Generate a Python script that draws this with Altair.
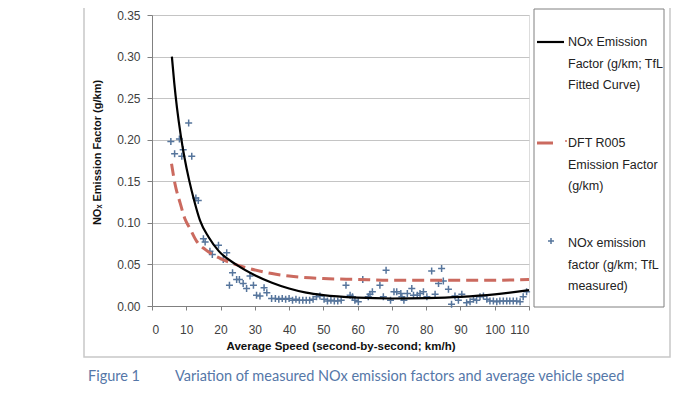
import altair as alt
import pandas as pd

# ---------------- data ----------------
speed_measured = [5.5, 6.6, 8.0, 8.7, 9.1, 10.7, 11.6, 12.8, 13.5, 15.0, 15.5, 16.9, 17.6,
                  19.4, 20.8, 21.8, 22.6, 23.5, 24.7, 25.5, 26.6, 27.6, 28.6, 29.6, 30.5,
                  31.5, 32.7, 33.5, 34.9, 36.0, 37.0, 38.0, 39.0, 40.0, 41.0, 42.0, 43.0,
                  44.0, 45.0, 46.0, 47.0, 48.0, 49.0, 50.2, 51.2, 52.2, 53.2, 54.2, 55.2,
                  56.6, 57.8, 58.5, 59.2, 60.2, 61.5, 63.1, 63.6, 64.3, 66.5, 67.5, 68.3,
                  69.6, 70.6, 71.4, 72.6, 72.9, 73.5, 74.5, 75.8, 76.3, 77.4, 78.2, 79.2,
                  80.2, 81.6, 82.6, 83.6, 84.5, 85.0, 86.5, 87.4, 88.4, 89.4, 90.4, 91.8,
                  92.8, 93.8, 94.7, 95.7, 96.7, 97.7, 98.6, 99.6, 100.6, 101.5, 102.5,
                  103.5, 104.4, 105.4, 106.4, 107.4, 108.3, 109.3]
nox_measured = [0.198, 0.183, 0.201, 0.180, 0.188, 0.220, 0.180, 0.130, 0.127, 0.081, 0.077,
                0.066, 0.062, 0.073, 0.056, 0.064, 0.025, 0.040, 0.032, 0.032, 0.027, 0.021,
                0.036, 0.025, 0.013, 0.012, 0.022, 0.016, 0.009, 0.009, 0.008, 0.009, 0.008,
                0.009, 0.007, 0.008, 0.007, 0.007, 0.007, 0.007, 0.008, 0.011, 0.012, 0.008,
                0.006, 0.007, 0.006, 0.006, 0.007, 0.025, 0.013, 0.011, 0.007, 0.005, 0.032,
                0.011, 0.014, 0.017, 0.025, 0.011, 0.043, 0.007, 0.017, 0.017, 0.015, 0.011,
                0.007, 0.015, 0.021, 0.013, 0.013, 0.015, 0.017, 0.011, 0.042, 0.014, 0.027,
                0.045, 0.030, 0.020, 0.002, 0.012, 0.007, 0.014, 0.004, 0.005, 0.008, 0.007,
                0.011, 0.012, 0.008, 0.006, 0.006, 0.005, 0.006, 0.006, 0.006, 0.006, 0.006,
                0.006, 0.005, 0.011, 0.017]

tfl_speed = [5.8, 6.5, 7.3, 8.4, 9.5, 10.8, 12.3, 14.0, 16.5, 19.5, 24.5, 30.0, 35.0,
             40.0, 45.0, 50.0, 60.0, 70.0, 80.0, 90.0, 100.0, 110.0]
tfl_nox = [0.300, 0.268, 0.238, 0.205, 0.178, 0.152, 0.127, 0.103, 0.083, 0.066, 0.050,
           0.037, 0.028, 0.021, 0.016, 0.013, 0.010, 0.009, 0.0095, 0.011, 0.014, 0.019]

dft_speed = [5.7, 6.7, 8.2, 9.6, 11.1, 13.0, 15.5, 19.0, 23.0, 28.5, 35.0, 40.0, 50.0,
             60.0, 70.0, 80.0, 90.0, 100.0, 110.0]
dft_nox = [0.171, 0.147, 0.124, 0.105, 0.093, 0.078, 0.068, 0.059, 0.052, 0.045, 0.039,
           0.036, 0.033, 0.032, 0.031, 0.031, 0.031, 0.031, 0.032]

x_ticks = [0, 10, 20, 30, 40, 50, 60, 70, 80, 90, 100, 110]
y_ticks = [0.0, 0.05, 0.10, 0.15, 0.20, 0.25, 0.30, 0.35]

legend_lines = [
    ["NOx Emission", "Factor (g/km; TfL", "Fitted Curve)"],
    ["DFT R005", "Emission Factor", "(g/km)"],
    ["NOx emission", "factor (g/km; TfL", "measured)"],
]
x_title = "Average Speed (second-by-second; km/h)"
y_title = "NOₓ Emission Factor (g/km)"
caption_label = "Figure 1"
caption_text = "Variation of measured NOx emission factors and average vehicle speed"

# ---------------- chart ----------------
W, H = 377, 291
TOP = 7
FONT = "Liberation Sans"
BLUE = "#56759c"
RED = "#cb6a5f"

meas_df = pd.DataFrame({"speed": speed_measured, "nox": nox_measured})
tfl_df = pd.DataFrame({"speed": tfl_speed, "nox": tfl_nox})
dft_df = pd.DataFrame({"speed": dft_speed, "nox": dft_nox})

x_scale = alt.Scale(domain=[0, 110], nice=False)
y_scale = alt.Scale(domain=[0, 0.35], nice=False)

x_axis = alt.Axis(values=x_ticks, grid=False, tickSize=4, labelPadding=14,
                  labelOverlap=False, labelFontSize=12, labelColor="#404040",
                  labelFont=FONT, domainColor="#808080", tickColor="#808080",
                  title=x_title, titleFont=FONT, titleFontSize=11.5, titleFontWeight="bold",
                  titleColor="#111111", titleY=40, titleBaseline="middle")
y_axis = alt.Axis(values=y_ticks, format=".2f", grid=True, gridColor="#c4c4c4",
                  labelOverlap=False, tickSize=5, labelPadding=7, labelFontSize=12,
                  labelColor="#404040", labelFont=FONT, domainColor="#808080",
                  tickColor="#808080",
                  title=y_title, titleFont=FONT, titleFontSize=11, titleFontWeight="bold",
                  titleColor="#111111", titleX=-55, titleY=137, titleBaseline="middle",
                  titleAngle=270)

X = alt.X("speed:Q", scale=x_scale, axis=x_axis)
Y = alt.Y("nox:Q", scale=y_scale, axis=y_axis)

points = alt.Chart(meas_df).mark_point(
    shape="M-1,0L1,0M0,-1L0,1", size=49, filled=False, stroke=BLUE, strokeWidth=1.5, opacity=1
).encode(x=X, y=Y)

dft_line = alt.Chart(dft_df).mark_line(
    color=RED, strokeWidth=3, strokeDash=[12, 6], interpolate="monotone"
).encode(x=X, y=Y)

tfl_line = alt.Chart(tfl_df).mark_line(
    color="#000000", strokeWidth=2.2, interpolate="monotone"
).encode(x=X, y=Y)


def deco():
    return alt.Chart(alt.Data(values=[{}]))


# page y -> plot-relative y
def py(page_y):
    return page_y - 8 - TOP


layers = [points, dft_line, tfl_line]

# outer frame of the figure
layers.append(deco().mark_rect(fill="transparent", stroke="#c8c8c8", strokeWidth=1.5).encode(
    x=alt.value(-68), x2=alt.value(518), y=alt.value(-40), y2=alt.value(py(357))))

# legend box
layers.append(deco().mark_rect(fill="transparent", stroke="#808080", strokeWidth=1).encode(
    x=alt.value(382), x2=alt.value(512), y=alt.value(py(9)), y2=alt.value(py(307))))

# legend symbols
layers.append(deco().mark_rule(color="#000000", strokeWidth=2.2).encode(
    x=alt.value(385), x2=alt.value(412), y=alt.value(py(42))))
layers.append(deco().mark_rule(color=RED, strokeWidth=3).encode(
    x=alt.value(385), x2=alt.value(401), y=alt.value(py(143))))
layers.append(deco().mark_rule(color=RED, strokeWidth=1.5).encode(
    x=alt.value(413), x2=alt.value(415), y=alt.value(py(141))))
layers.append(deco().mark_point(shape="M-1,0L1,0M0,-1L0,1", size=36, filled=False,
                                stroke=BLUE, strokeWidth=1.5, opacity=1).encode(
    x=alt.value(399), y=alt.value(py(241))))

entry_top = [42, 143, 243]
for i, lines in enumerate(legend_lines):
    for j, line in enumerate(lines):
        layers.append(deco().mark_text(align="left", baseline="middle", font=FONT,
                                       fontSize=12.5, color="#222222").encode(
            x=alt.value(416), y=alt.value(py(entry_top[i] + j * 21.5)), text=alt.value(line)))

# caption
layers.append(deco().mark_text(align="left", baseline="middle", font="Lato", fontSize=14.5,
                               color="#5577a8").encode(
    x=alt.value(-64), y=alt.value(py(377)), text=alt.value(caption_label)))
layers.append(deco().mark_text(align="left", baseline="middle", font="Lato", fontSize=14.5,
                               color="#5577a8").encode(
    x=alt.value(23), y=alt.value(py(377)), text=alt.value(caption_text)))

chart = alt.layer(*layers).properties(
    width=W, height=H,
    autosize=alt.AutoSizeParams(type="none"),
    padding={"left": 144, "top": TOP, "right": 162, "bottom": 377 - TOP - H},
).configure_view(stroke="#808080", strokeWidth=1).configure(background="white")

chart.save("out.html", embed_options={"renderer": "svg", "actions": False})
